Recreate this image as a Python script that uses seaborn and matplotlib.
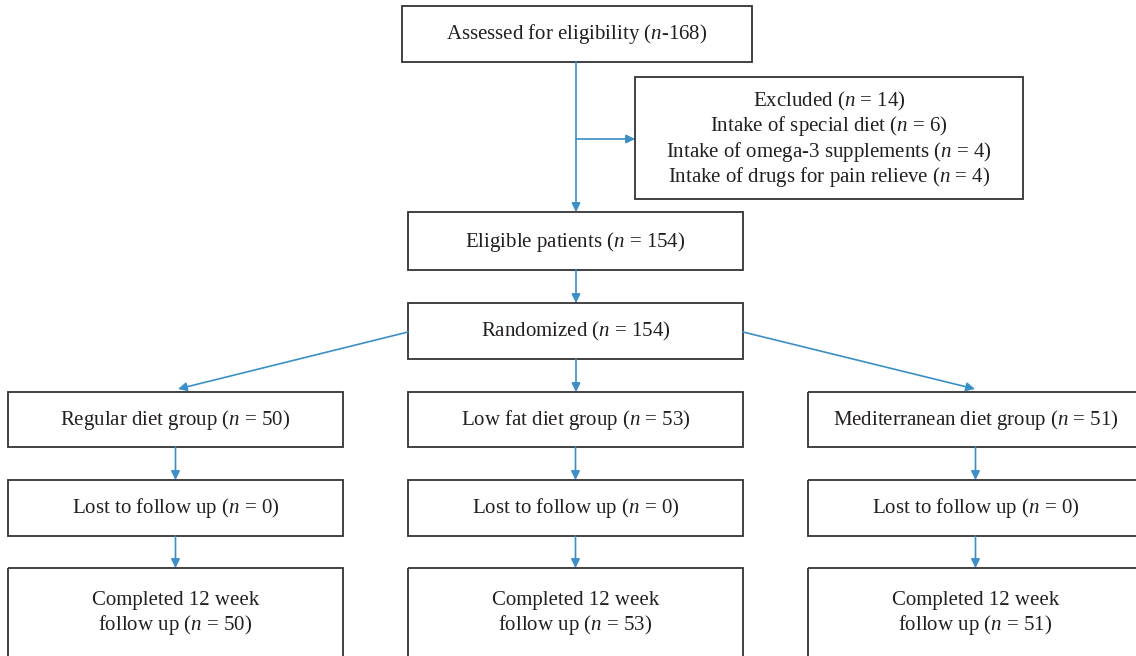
import matplotlib
matplotlib.use("Agg")
import matplotlib.pyplot as plt
import seaborn as sns
from matplotlib.patches import Rectangle

sns.set_theme(style="white")
plt.rcParams['font.family'] = ['Liberation Serif', 'DejaVu Serif']
plt.rcParams['mathtext.fontset'] = 'custom'
plt.rcParams['mathtext.rm'] = 'Liberation Serif'
plt.rcParams['mathtext.it'] = 'Liberation Serif:italic'

# Box labels
top_label = "Assessed for eligibility ($n$-168)"
excluded_lines = ["Excluded ($n$ = 14)",
                  "Intake of special diet ($n$ = 6)",
                  "Intake of omega-3 supplements ($n$ = 4)",
                  "Intake of drugs for pain relieve ($n$ = 4)"]
eligible_label = "Eligible patients ($n$ = 154)"
random_label = "Randomized ($n$ = 154)"
groups = ["Regular diet group", "Low fat diet group", "Mediterranean diet group"]
group_n = [50, 53, 51]
lost_n = [0, 0, 0]
completed_n = [50, 53, 51]

# layout (pixel coords, y down)
cols = [(8, 343), (408, 743), (808, 1143)]
BOX_EC = "#333333"
ARROW_C = "#3a8fc7"
TXT_C = "#231f20"
FS = 15

fig = plt.figure(figsize=(11.36, 6.56), dpi=100)
ax = fig.add_axes([0, 0, 1, 1])
ax.set_xlim(0, 1136)
ax.set_ylim(656, 0)
ax.axis("off")


def box(x0, y0, x1, y1, text, ty=None, ls=1.08):
    ax.add_patch(Rectangle((x0, y0), x1 - x0, y1 - y0, fill=False,
                           ec=BOX_EC, lw=1.3, clip_on=False))
    ax.text((x0 + x1) / 2, (y0 + y1) / 2 if ty is None else ty, text,
            ha="center", va="center",
            fontsize=FS, color=TXT_C, linespacing=ls)


def arrow(x0, y0, x1, y1):
    ax.annotate("", xy=(x1, y1), xytext=(x0, y0),
                arrowprops=dict(arrowstyle="-|>", color=ARROW_C, lw=1.2,
                                mutation_scale=13, shrinkA=0, shrinkB=0))


box(402, 6, 752, 62, top_label, ty=34)
box(635, 77, 1023, 199, "\n".join(excluded_lines), ty=139.5)
box(408, 212, 743, 270, eligible_label, ty=242)
box(408, 303, 743, 359, random_label, ty=331)

ax.plot([576, 576], [62, 139], color=ARROW_C, lw=1.2)
arrow(576, 139, 576, 212)
arrow(576, 139, 635, 139)
arrow(576, 270, 576, 303)

arrow(408, 332, 178, 389)
arrow(576, 359, 576, 392)
arrow(743, 332, 975, 389)

for i, (x0, x1) in enumerate(cols):
    cx = (x0 + x1) / 2
    box(x0, 392, x1, 447, f"{groups[i]} ($n$ = {group_n[i]})", ty=420)
    arrow(cx, 447, cx, 480)
    box(x0, 480, x1, 536, f"Lost to follow up ($n$ = {lost_n[i]})", ty=508)
    arrow(cx, 536, cx, 568)
    box(x0, 568, x1, 664, f"Completed 12 week\nfollow up ($n$ = {completed_n[i]})",
        ty=614, ls=1.2)

fig.savefig("out.png", dpi=100, facecolor="white")
